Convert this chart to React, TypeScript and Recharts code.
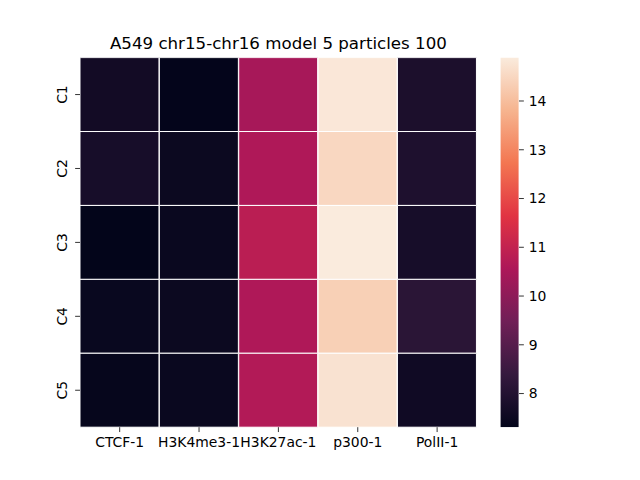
import React from 'react';
import { BarChart, Bar, XAxis, YAxis, Cell } from 'recharts';

// heatmap columns (x) and rows (y)
const COLUMNS = ['CTCF-1', 'H3K4me3-1', 'H3K27ac-1', 'p300-1', 'PolII-1'];
const ROWS = ['C1', 'C2', 'C3', 'C4', 'C5'];

// values per row, in column order
const C1 = [7.65, 7.33, 10.45, 14.82, 7.85];
const C2 = [7.75, 7.5, 10.6, 14.5, 7.9];
const C3 = [7.31, 7.47, 10.82, 14.89, 7.75];
const C4 = [7.45, 7.5, 10.6, 14.35, 8.15];
const C5 = [7.38, 7.46, 10.66, 14.72, 7.6];
const VALUES = [C1, C2, C3, C4, C5];

const COLORBAR_TICKS = [8, 9, 10, 11, 12, 13, 14];
const VMIN = Math.min(...VALUES.flat());
const VMAX = Math.max(...VALUES.flat());

// seaborn "rocket" colormap, sampled
const ROCKET: [number, number, number, number][] = [
  [0, 3, 5, 26],
  [1 / 7, 53, 25, 62],
  [2 / 7, 112, 31, 87],
  [3 / 7, 173, 23, 89],
  [4 / 7, 225, 51, 66],
  [5 / 7, 243, 118, 81],
  [6 / 7, 246, 180, 143],
  [1, 250, 235, 221],
];

function rocketAt(t: number): string {
  const u = Math.max(0, Math.min(1, t));
  for (let i = 1; i < ROCKET.length; i++) {
    const a = ROCKET[i - 1];
    const b = ROCKET[i];
    if (u <= b[0]) {
      const f = (u - a[0]) / (b[0] - a[0]);
      const c = [1, 2, 3].map((k) => Math.round(a[k] + (b[k] - a[k]) * f));
      return `rgb(${c[0]},${c[1]},${c[2]})`;
    }
  }
  return 'rgb(250,235,221)';
}

const colorFor = (v: number) => rocketAt((v - VMIN) / (VMAX - VMIN));

const FONT = 'DejaVu Sans';
const TICK_LEN = 4.86;

const tableData = COLUMNS.map((name, i) => {
  const row: Record<string, string | number> = { name };
  ROWS.forEach((r, ri) => {
    row[r] = VALUES[ri][i];
  });
  return row;
});

const colorbarData = [{ name: 'cb', range: [VMIN, VMAX] }];

function RotatedTick(props: any) {
  const { x, y, payload } = props;
  const bx = x - 3.4;
  return (
    <text
      x={bx}
      y={y}
      transform={`rotate(-90, ${bx}, ${y})`}
      textAnchor="middle"
      fontFamily={FONT}
      fontSize={13.9}
      fill="#000"
    >
      {ROWS[Math.floor(payload.value)]}
    </text>
  );
}

export default function App() {
  return (
    <div style={{ position: 'absolute', left: 0, top: 0, width: 640, height: 480, background: '#fff' }}>
      <svg width={640} height={480} style={{ position: 'absolute', left: 0, top: 0 }}>
        <defs>
          <linearGradient id="rocketGrad" x1="0" y1="0" x2="0" y2="1">
            {ROCKET.slice().reverse().map((s) => (
              <stop key={s[0]} offset={`${(1 - s[0]) * 100}%`} stopColor={`rgb(${s[1]},${s[2]},${s[3]})`} />
            ))}
          </linearGradient>
        </defs>
        <text x={278.4} y={49} textAnchor="middle" fontFamily={FONT} fontSize={16.67} fill="#000">
          A549 chr15-chr16 model 5 particles 100
        </text>
      </svg>

      {/* heatmap */}
      <div style={{ position: 'absolute', left: 0, top: 0 }}>
        <BarChart
          width={640}
          height={480}
          data={tableData}
          margin={{ top: 57.6, right: 163.2, bottom: 22.8, left: 40 }}
          barCategoryGap={0}
          barGap={0}
        >
          <XAxis
            dataKey="name"
            type="category"
            height={30}
            axisLine={false}
            tickSize={TICK_LEN}
            tickMargin={4.86}
            tickLine={{ stroke: '#000', strokeWidth: 0.8 }}
            tick={{ fontFamily: FONT, fontSize: 13.9, fill: '#000' }}
            interval={0}
          />
          <YAxis
            type="number"
            domain={[0, 5]}
            reversed
            width={40}
            ticks={[0.5, 1.5, 2.5, 3.5, 4.5]}
            axisLine={false}
            tickSize={TICK_LEN}
            tickMargin={4.86}
            tickLine={{ stroke: '#000', strokeWidth: 0.8 }}
            tick={<RotatedTick />}
            allowDataOverflow
          />
          {ROWS.map((r, ri) => (
            <Bar
              key={r}
              stackId="grid"
              dataKey={() => 1}
              isAnimationActive={false}
              stroke="#fff"
              strokeWidth={1}
            >
              {COLUMNS.map((c, ci) => (
                <Cell key={c} fill={colorFor(VALUES[ri][ci])} />
              ))}
            </Bar>
          ))}
        </BarChart>
      </div>

      {/* colorbar */}
      <div style={{ position: 'absolute', left: 0, top: 0 }}>
        <BarChart
          width={640}
          height={480}
          data={colorbarData}
          margin={{ top: 57.6, right: 81, bottom: 52.8, left: 500.6 }}
          barCategoryGap={0}
        >
          <XAxis dataKey="name" hide />
          <YAxis
            orientation="right"
            type="number"
            domain={[VMIN, VMAX]}
            ticks={COLORBAR_TICKS}
            width={40}
            axisLine={false}
            tickSize={TICK_LEN}
            tickMargin={4.86}
            tickLine={{ stroke: '#000', strokeWidth: 0.8 }}
            tick={{ fontFamily: FONT, fontSize: 13.9, fill: '#000' }}
            allowDataOverflow
          />
          <Bar dataKey="range" fill="url(#rocketGrad)" isAnimationActive={false} />
        </BarChart>
      </div>
    </div>
  );
}
